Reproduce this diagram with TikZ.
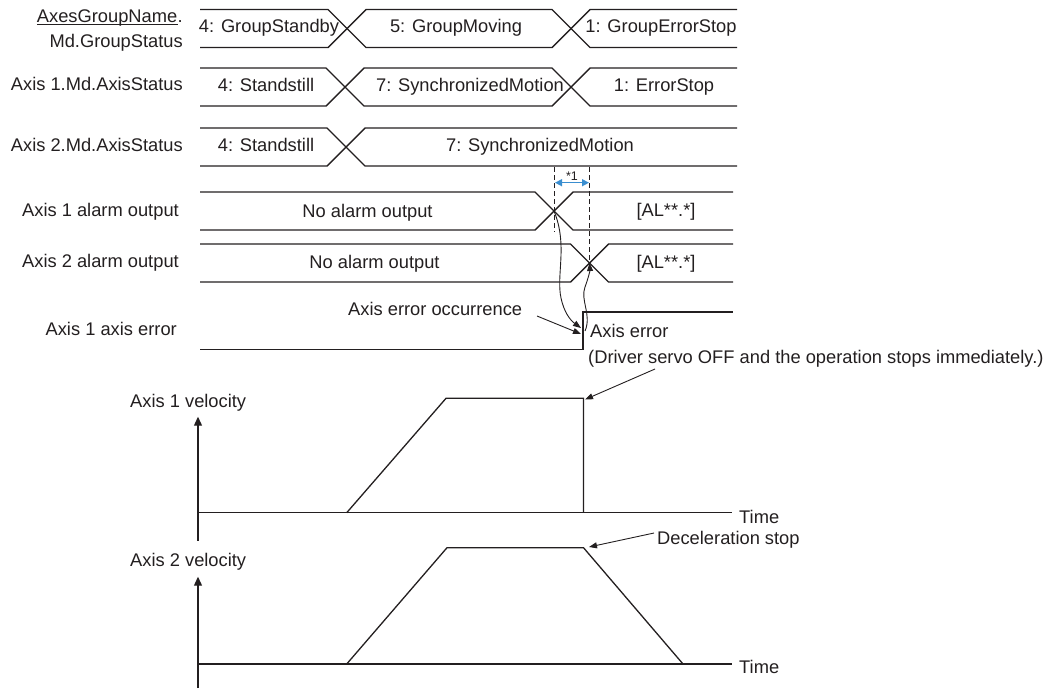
\documentclass[tikz,border=0pt]{standalone}
\usepackage{fontspec}
\setmainfont{Liberation Sans}
\usetikzlibrary{arrows.meta}
\definecolor{ink}{RGB}{35,31,32}
\definecolor{spanblue}{RGB}{58,142,208}
\begin{document}
\begin{tikzpicture}[x=1pt,y=-1pt,
  every node/.style={font=\fontsize{18.3}{22}\selectfont, text=ink, inner sep=0pt},
  lbl/.style={anchor=base east},
  val/.style={anchor=base},
  txt/.style={anchor=base west},
  sig/.style={draw=ink, line width=1.4pt, line join=miter},
  vel/.style={draw=ink, line width=1.3pt, line join=miter},
  axisarrow/.style={draw=ink, line width=1.2pt, -{Triangle[length=9pt,width=8pt]}},
  callout/.style={draw=ink, line width=0.9pt, -{Triangle[length=8pt,width=6pt]}},
  guide/.style={draw=ink, line width=1pt, dash pattern=on 5pt off 3pt}]
\useasboundingbox (0,0) rectangle (1056,689);

% ---- signal names ----
\node[lbl] (gdot) at (183,22.5) {.};
\node[lbl] (gname) at (gdot.base west) {AxesGroupName};
\draw[ink, line width=0.9pt] ([yshift=-2pt]gname.base west) -- ([yshift=-2pt]gname.base east);
\node[lbl] (gstat) at (183,47) {Md.GroupStatus};
\node[lbl] (a1stat) at (183,90) {Axis 1.Md.AxisStatus};
\node[lbl] (a2stat) at (183,151) {Axis 2.Md.AxisStatus};
\node[lbl] (a1alm) at (179,216) {Axis 1 alarm output};
\node[lbl] (a2alm) at (179,267) {Axis 2 alarm output};
\node[lbl] (a1err) at (177,335) {Axis 1 axis error};

% ---- group status bus ----
\draw[sig] (200,9.5) -- (328,9.5) -- (366,47.5) -- (552,47.5) -- (590,9.5) -- (737,9.5);
\draw[sig] (200,47.5) -- (328,47.5) -- (366,9.5) -- (552,9.5) -- (590,47.5) -- (737,47.5);
\node[val] (g4) at (269,32.5) {4: GroupStandby};
\node[val] (g5) at (456,32.5) {5: GroupMoving};
\node[val] (g1) at (661,32.5) {1: GroupErrorStop};

% ---- axis 1 status bus ----
\draw[sig] (200,68) -- (326,68) -- (364,106) -- (552,106) -- (590,68) -- (737,68);
\draw[sig] (200,106) -- (326,106) -- (364,68) -- (552,68) -- (590,106) -- (737,106);
\node[val] (s14) at (266,91) {4: Standstill};
\node[val] (s17) at (470,91) {7: SynchronizedMotion};
\node[val] (s11) at (664,91) {1: ErrorStop};

% ---- axis 2 status bus ----
\draw[sig] (200,128) -- (327,128) -- (365,166) -- (737,166);
\draw[sig] (200,166) -- (327,166) -- (365,128) -- (737,128);
\node[val] (s24) at (266,151) {4: Standstill};
\node[val] (s27) at (540,151) {7: SynchronizedMotion};

% ---- alarm outputs ----
\draw[sig] (200,192) -- (535,192) -- (573,230) -- (733,230);
\draw[sig] (200,230) -- (535,230) -- (573,192) -- (733,192);
\node[val] (n1) at (367.5,217) {No alarm output};
\node[val] (al1) at (666,216) {[AL**.*]};
\coordinate (x1) at (554,211);

\draw[sig] (200,244) -- (570.5,244) -- (608.5,282) -- (733,282);
\draw[sig] (200,282) -- (570.5,282) -- (608.5,244) -- (733,244);
\node[val] (n2) at (374.5,268) {No alarm output};
\node[val] (al2) at (666,268) {[AL**.*]};
\coordinate (x2) at (589.5,263);

% ---- axis error ----
\draw[sig] (200,349.5) -- (583,349.5) -- (583,312) -- (733,312);
\node[txt] (occ) at (348,315) {Axis error occurrence};
\node[txt] (aerr) at (590,337) {Axis error};
\node[txt] (drv) at (588,363) {(Driver servo OFF and the operation stops immediately.)};

% ---- delay marker ----
\draw[guide] (554,167) -- (554,232);
\draw[guide] (589.5,167) -- (589.5,262);
\coordinate (d1) at (555,182.7);
\coordinate (d2) at (589,182.7);
\draw[spanblue, line width=1.4pt, {Triangle[length=7pt,width=7pt]}-{Triangle[length=7pt,width=7pt]}] (d1) -- (d2);
\node[anchor=base, font=\fontsize{12.5}{14}\selectfont] (star) at (572,180) {*1};

% ---- cause and effect ----
\coordinate (occtail) at (537,316);
\coordinate (errtip) at (581,334);
\draw[callout] (occtail) -- (errtip);
\coordinate (errin) at (581,328);
\coordinate (errout) at (585,331);
\draw[callout] (x1) .. controls (568,245) and (556,275) .. (561,298)
               .. controls (564,312) and (570,320) .. (errin);
\draw[callout] (errout) .. controls (592,315) and (580,300) .. (585,287)
               .. controls (589,276) and (590,270) .. (x2);

% ---- axis 1 velocity ----
\coordinate (o1) at (198,512.7);
\draw[axisarrow] (198,540.7) -- (198,416.7);
\draw[vel] (o1) -- (731.7,512.7);
\node[txt] (t1) at (739,523) {Time};
\node[txt] (v1) at (130,407) {Axis 1 velocity};
\draw[vel] (346.7,512.7) -- (446,398.3) -- (583.5,398.3) -- (583.5,512.7);
\coordinate (stop1) at (585,399.5);
\coordinate (drvtail) at (655,369);
\draw[callout] (drvtail) -- (stop1);

% ---- axis 2 velocity ----
\draw[axisarrow] (198,688) -- (198,576.7);
\draw[vel] (198,664) -- (731.7,664);
\node[txt] (t2) at (739,673) {Time};
\node[txt] (v2) at (130,566) {Axis 2 velocity};
\draw[vel] (346.7,664) -- (447,547.7) -- (583.5,547.7) -- (683,664);
\node[txt] (dec) at (657,544) {Deceleration stop};
\coordinate (dectail) at (654,533);
\coordinate (stop2) at (589,547);
\draw[callout] (dectail) -- (stop2);
\end{tikzpicture}
\end{document}
